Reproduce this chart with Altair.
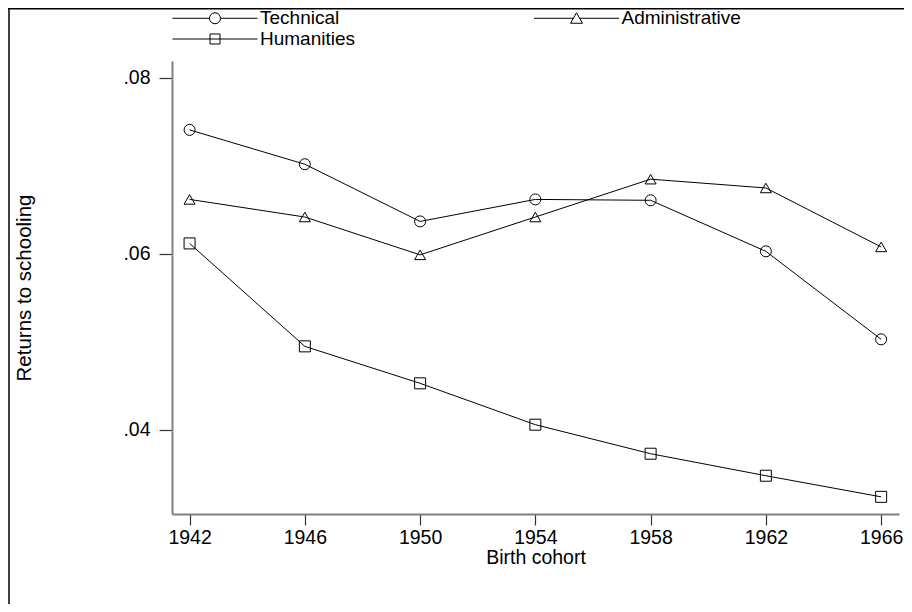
import altair as alt
import pandas as pd

# ---- data ----
years = [1942, 1946, 1950, 1954, 1958, 1962, 1966]
technical = [0.0741, 0.0702, 0.0637, 0.0662, 0.0661, 0.0603, 0.0503]
administrative = [0.0662, 0.0642, 0.0599, 0.0642, 0.0685, 0.0675, 0.0608]
humanities = [0.0612, 0.0495, 0.0453, 0.0406, 0.0373, 0.0348, 0.0324]
series_names = ["Technical", "Administrative", "Humanities"]
legend_order = ["Technical", "Humanities", "Administrative"]
x_ticks = years
y_ticks = [0.04, 0.06, 0.08]
x_domain = [1941.39, 1966.62]
y_domain = [0.03045, 0.08193]

rows = []
for name, vals in zip(series_names, [technical, administrative, humanities]):
    for yr, v in zip(years, vals):
        rows.append({"cohort": yr, "returns": v, "series": name, "marker": name})
df = pd.DataFrame(rows)

FONT = "Liberation Sans"

x_enc = alt.X(
    "cohort:Q",
    scale=alt.Scale(domain=x_domain, nice=False, zero=False),
    axis=alt.Axis(
        values=x_ticks, format="d", title="Birth cohort", grid=False,
        tickSize=11, labelPadding=3, labelFlush=False,
        titleY=43, titleBaseline="middle", titleAlign="center",
    ),
)
y_enc = alt.Y(
    "returns:Q",
    scale=alt.Scale(domain=y_domain, nice=False, zero=False),
    axis=alt.Axis(
        values=y_ticks, labelExpr="slice(format(datum.value, '.2f'), 1)",
        title="Returns to schooling", grid=False, tickSize=13, labelPadding=9,
        titleX=-148, titleY=226.5, titleAngle=270, titleAlign="center",
        titleBaseline="middle", titleFontSize=20.5,
    ),
)

circ = "M-8.5,0L-1.1,0M1.1,0L8.5,0M1.1,0A1.1,1.1,0,1,1,-1.1,0A1.1,1.1,0,1,1,1.1,0"
tri = "M-8.5,0L-0.6,0M0.6,0L8.5,0M0,-1.1L1.2,1L-1.2,1Z"
sq = "M-8.5,0L8.5,0M-1,-1L1,-1L1,1L-1,1Z"
shape_sig = (
    f"datum.value === 'Technical' ? '{circ}' : "
    f"(datum.value === 'Administrative' ? '{tri}' : '{sq}')"
)

lines = alt.Chart(df).mark_line(color="black", strokeWidth=1).encode(
    x=x_enc,
    y=y_enc,
    color=alt.Color(
        "series:N",
        scale=alt.Scale(domain=legend_order, range=["black", "black", "black"]),
        legend=alt.Legend(
            title=None, orient="none", legendX=33.5, legendY=-52.5, columns=2,
            columnPadding=176.5, rowPadding=1, labelFont=FONT, labelFontSize=19,
            labelColor="black", labelOffset=35.5, symbolSize=100,
            symbolStrokeWidth=1, padding=0,
            symbolType=alt.ExprRef(expr=shape_sig),
        ),
    ),
)

points = alt.Chart(df).mark_point(
    filled=False, color="black", size=121, strokeWidth=1, opacity=1
).encode(
    x=x_enc,
    y=y_enc,
    shape=alt.Shape(
        "marker:N",
        scale=alt.Scale(domain=series_names, range=["circle", "triangle-up", "square"]),
        legend=None,
    ),
)

frame_v = alt.Chart(alt.Data(values=[{}])).mark_rule(color="black", strokeWidth=1.5).encode(
    x=alt.value(-163), y=alt.value(-53), y2=alt.value(543)
)
frame_h = alt.Chart(alt.Data(values=[{}])).mark_rule(color="black", strokeWidth=1.5).encode(
    x=alt.value(-164), x2=alt.value(732), y=alt.value(-52.2)
)

chart = alt.layer(lines, points, frame_v, frame_h).properties(
    width=727,
    height=453,
    padding={"left": 164, "top": 53, "right": 5, "bottom": 90},
    autosize=alt.AutoSizeParams(type="none"),
).configure_view(stroke=None).configure_axis(
    labelFont=FONT, labelFontSize=19.5, labelColor="black",
    titleFont=FONT, titleFontSize=19.5, titleColor="black", titleFontWeight="normal",
    domainColor="#808080", domainWidth=2, tickColor="#333333", tickWidth=1.2,
)

chart.save("out.html", embed_options={"renderer": "svg", "actions": False})
